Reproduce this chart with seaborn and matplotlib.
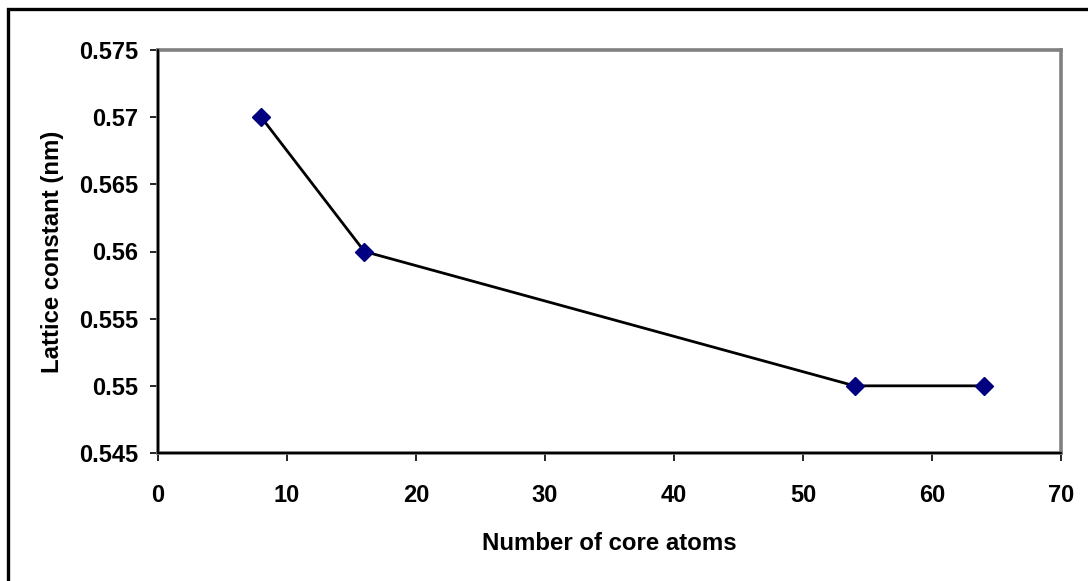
import matplotlib
matplotlib.use("Agg")
import matplotlib.pyplot as plt
import matplotlib.patches as mpatches
from matplotlib.ticker import FuncFormatter, MultipleLocator
import pandas as pd
import seaborn as sns

# values
core_atoms = [8, 16, 54, 64]
lattice_nm = [0.570, 0.560, 0.550, 0.550]

df = pd.DataFrame({"atoms": core_atoms, "lattice": lattice_nm})

sns.set_style("white")
plt.rcParams["font.family"] = ["Liberation Sans", "DejaVu Sans"]
plt.rcParams["font.weight"] = "bold"
plt.rcParams["text.color"] = "black"
plt.rcParams["axes.labelcolor"] = "black"
plt.rcParams["xtick.color"] = "black"
plt.rcParams["ytick.color"] = "black"

fig = plt.figure(figsize=(10.88, 5.81), dpi=100)
ax = fig.add_axes([158 / 1088, 1 - 453 / 581, (1061 - 158) / 1088, (453 - 50) / 581])

sns.lineplot(data=df, x="atoms", y="lattice", ax=ax, color="black", linewidth=2,
             marker="D", markersize=9, markerfacecolor="#000080",
             markeredgecolor="#000080", markeredgewidth=1, zorder=3)

ax.set_xlim(0, 70)
ax.set_ylim(0.545, 0.575)
ax.xaxis.set_major_locator(MultipleLocator(10))
ax.yaxis.set_major_locator(MultipleLocator(0.005))
ax.yaxis.set_major_formatter(FuncFormatter(lambda v, p: "%g" % round(v, 3)))

ax.set_xlabel("Number of core atoms", fontsize=17.3, fontweight="bold",
              color="black", labelpad=18)
ax.set_ylabel("Lattice constant (nm)", fontsize=17.3, fontweight="bold",
              color="black", labelpad=11)

ax.tick_params(axis="both", which="major", direction="out", length=6, width=1.2,
               color="black", labelcolor="black", labelsize=17, bottom=True, left=True)
ax.tick_params(axis="x", pad=16)
ax.tick_params(axis="y", pad=8)
for lab in ax.get_xticklabels() + ax.get_yticklabels():
    lab.set_fontweight("bold")

# excel style plot area: grey frame, black axis lines on left and bottom
for s in ax.spines.values():
    s.set_color("#808080")
    s.set_linewidth(2.6)
ax.plot([0, 0], [0, 1], transform=ax.transAxes, color="black", lw=1.6, clip_on=False, zorder=4)
ax.plot([0, 1], [0, 0], transform=ax.transAxes, color="black", lw=1.6, clip_on=False, zorder=4)

# outer chart border (only top and left edges fall inside the image)
border = mpatches.Rectangle((7.5 / 1088, -0.1), 2, 1 - 8.5 / 581 + 0.1,
                            transform=fig.transFigure, fill=False,
                            edgecolor="black", linewidth=2.4)
fig.patches.append(border)

fig.savefig("out.png", dpi=100)
